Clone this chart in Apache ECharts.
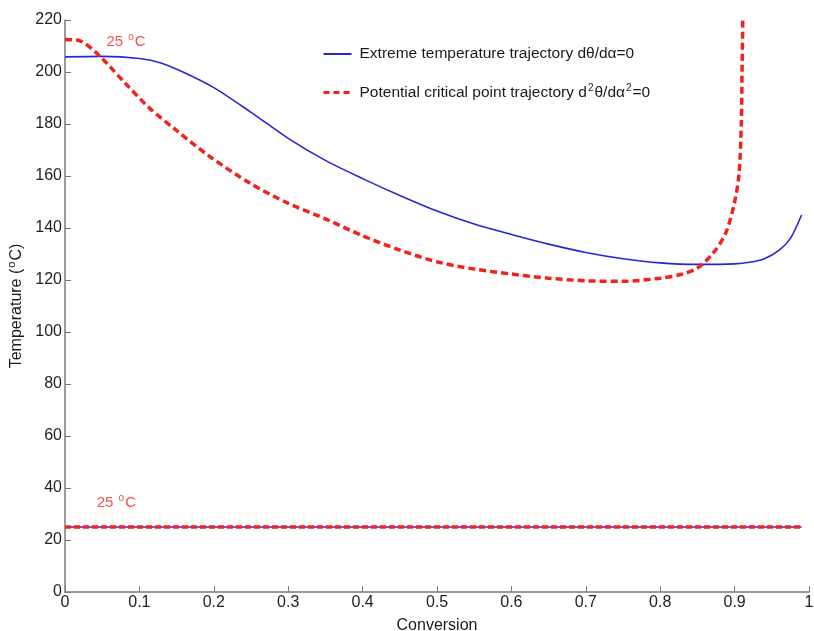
<!DOCTYPE html>
<html>
<head>
<meta charset="utf-8">
<script src="https://cdn.jsdelivr.net/npm/echarts@6/dist/echarts.min.js"></script>
<style>
  html, body { margin: 0; padding: 0; background: #fff; }
  #main { width: 814px; height: 631px; }
</style>
</head>
<body>
<div id="main"></div>
<script>
// extreme temperature trajectory (blue)
var convBlue = [0, 0.05, 0.1, 0.13, 0.16, 0.2, 0.25, 0.3, 0.35, 0.4, 0.45, 0.5, 0.55, 0.6, 0.65, 0.7, 0.75, 0.8, 0.85, 0.9, 0.92, 0.94, 0.96, 0.975, 0.99];
var tempBlue = [205.8, 206, 205.2, 203.4, 199.8, 194, 184.5, 174.5, 166, 159, 152.5, 146.5, 141.5, 137.5, 133.8, 130.6, 128.2, 126.6, 126, 126.2, 126.8, 128.2, 131.5, 136, 145];

// potential critical point trajectory (red dashed)
var convRed = [0, 0.02, 0.047, 0.08, 0.114, 0.15, 0.195, 0.25, 0.3, 0.35, 0.4, 0.45, 0.5, 0.55, 0.6, 0.65, 0.7, 0.75, 0.8, 0.83, 0.85, 0.871, 0.888, 0.9, 0.906, 0.909, 0.91, 0.911];
var tempRed = [212.5, 212, 206, 196, 186, 177.5, 167.4, 157, 149.5, 143.5, 137, 131.5, 127, 124.2, 122.3, 120.7, 119.7, 119.5, 120.7, 122.3, 124.6, 130.3, 138, 150, 161, 180, 200, 220];

// 25 oC feed temperature lines
var convBase = [0, 0.99];
var tempBase = [25, 25];

// "25 oC" annotations [conversion, temperature]
var annotations = [[0.082, 211.5], [0.069, 34.2]];

var xTicks = [0, 0.1, 0.2, 0.3, 0.4, 0.5, 0.6, 0.7, 0.8, 0.9, 1];
var yTicks = [0, 20, 40, 60, 80, 100, 120, 140, 160, 180, 200, 220];

function pairs(xs, ys) {
  return xs.map(function (x, i) { return [x, ys[i]]; });
}

var font = '"Liberation Sans", Arial, sans-serif';
var blue = '#2626d6';
var red = '#f2231e';
var txt = '#1a1a1a';
function supStyle(size, color) {
  return { fontSize: size, fontFamily: font, color: color, verticalAlign: 'top', padding: [0, 1, 9, 1] };
}

var chart = echarts.init(document.getElementById('main'));
var option = {
  backgroundColor: '#ffffff',
  animation: false,
  grid: { left: 65, right: 5, top: 20, bottom: 39, outerBoundsMode: 'none' },
  legend: {
    orient: 'vertical',
    left: 317,
    top: 41,
    itemWidth: 28,
    itemHeight: 16,
    itemGap: 21,
    itemStyle: { opacity: 0 },
    data: [
      { name: 'blue', lineStyle: { width: 2 } },
      { name: 'red', lineStyle: { width: 3, type: [6, 4] } }
    ],
    formatter: function (name) {
      if (name === 'blue') return 'Extreme temperature trajectory d\u03b8/d\u03b1=0';
      return 'Potential critical point trajectory d{sup|2}\u03b8/d\u03b1{sup|2}=0';
    },
    textStyle: {
      fontFamily: font, fontSize: 15.5, color: txt, padding: [0, 0, 0, 3],
      rich: { sup: supStyle(10, txt) }
    }
  },
  xAxis: {
    type: 'value',
    min: 0, max: 1, interval: 0.1,
    name: 'Conversion',
    nameLocation: 'middle',
    nameGap: 26,
    nameTextStyle: { fontFamily: font, fontSize: 16, color: txt },
    axisLine: { lineStyle: { color: '#7a7a7a', width: 1.5 } },
    axisTick: { inside: true, length: 6, lineStyle: { color: '#7a7a7a' } },
    axisLabel: {
      fontFamily: font, fontSize: 16, color: '#222', margin: 3,
      formatter: function (v) { return xTicks.indexOf(+v.toFixed(1)) >= 0 ? String(+v.toFixed(1)) : ''; }
    },
    splitLine: { show: false }
  },
  yAxis: {
    type: 'value',
    min: 0, max: 220, interval: 20,
    name: 'Temperature ({sup|o}C)',
    nameLocation: 'middle',
    nameGap: 36,
    nameRotate: 90,
    nameTextStyle: { fontFamily: font, fontSize: 16, color: txt, rich: { sup: supStyle(11, txt) } },
    axisLine: { show: true, lineStyle: { color: '#7a7a7a', width: 1.5 } },
    axisTick: { show: true, inside: true, length: 6, lineStyle: { color: '#7a7a7a' } },
    axisLabel: {
      fontFamily: font, fontSize: 16, color: '#222', margin: 3,
      formatter: function (v) { return yTicks.indexOf(v) >= 0 ? String(v) : ''; }
    },
    splitLine: { show: false }
  },
  series: [
    {
      name: 'blue', type: 'line', showSymbol: false, symbol: 'none', smooth: 0.3,
      data: pairs(convBlue, tempBlue),
      lineStyle: { color: blue, width: 1.6 },
      itemStyle: { color: blue }
    },
    {
      name: 'red', type: 'line', showSymbol: false, symbol: 'none', smooth: 0.3,
      data: pairs(convRed, tempRed),
      lineStyle: { color: red, width: 3.5, type: [7, 4] },
      itemStyle: { color: red }
    },
    {
      name: 'blueBase', type: 'line', showSymbol: false, symbol: 'none',
      data: pairs(convBase, tempBase),
      lineStyle: { color: blue, width: 1.6 }
    },
    {
      name: 'redBase', type: 'line', showSymbol: false, symbol: 'none',
      data: pairs(convBase, tempBase),
      lineStyle: { color: red, width: 3.5, type: [6, 3] }
    },
    {
      name: 'labels', type: 'scatter', symbolSize: 0, silent: true,
      data: annotations,
      label: {
        show: true, position: 'inside',
        formatter: '25 {sup|o}C',
        fontFamily: font, fontSize: 15, color: red,
        rich: { sup: supStyle(10, red) }
      }
    }
  ]
};
chart.setOption(option);
</script>
</body>
</html>
